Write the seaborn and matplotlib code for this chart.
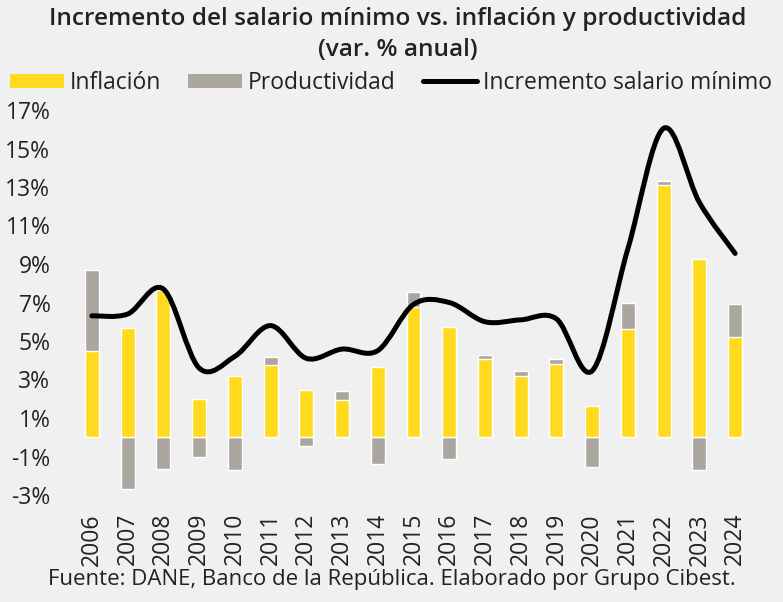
import matplotlib
matplotlib.use("Agg")
import matplotlib.pyplot as plt
from matplotlib.path import Path
from matplotlib.patches import PathPatch, Patch
from matplotlib.lines import Line2D
import numpy as np
import pandas as pd
import seaborn as sns

years = [str(y) for y in range(2006, 2025)]
inflacion = [4.48, 5.69, 7.67, 2.00, 3.17, 3.73, 2.44, 1.94, 3.66, 6.77, 5.75, 4.09, 3.18, 3.80, 1.61, 5.62, 13.12, 9.28, 5.20]
productividad = [4.22, -2.68, -1.65, -1.05, -1.70, 0.45, -0.44, 0.44, -1.41, 0.77, -1.13, 0.20, 0.27, 0.26, -1.52, 1.38, 0.18, -1.72, 1.74]
salario_minimo = [6.31, 6.40, 7.70, 3.60, 4.20, 5.80, 4.10, 4.58, 4.50, 6.90, 7.00, 6.00, 6.10, 6.15, 3.45, 9.80, 16.05, 12.20, 9.55]
yticks = list(range(-3, 18, 2))

YELLOW = "#FFDA1F"
GRAY = "#ABA69F"
BG = "#F0F0F0"
TXT = "#222222"

sns.set_theme(style="white")
plt.rcParams["font.family"] = ["Open Sans", "DejaVu Sans"]

df = pd.DataFrame({"anio": years, "inflacion": inflacion, "productividad": productividad})
# gray stacks on top of inflation when positive, hangs from zero when negative
df["gris"] = np.where(df["productividad"] > 0, df["inflacion"] + df["productividad"], df["productividad"])

fig = plt.figure(figsize=(7.83, 6.02), dpi=100, facecolor=BG)
ax = fig.add_axes([74 / 783, 107 / 602, 679 / 783, 385 / 602])
ax.set_facecolor(BG)

sns.barplot(data=df, x="anio", y="gris", color=GRAY, width=0.39, saturation=1, ax=ax)
sns.barplot(data=df, x="anio", y="inflacion", color=YELLOW, width=0.39, saturation=1, ax=ax)

# smoothed line (Excel-style bezier through the points)
xs = np.arange(len(salario_minimo), dtype=float)
ys = np.array(salario_minimo)
verts = [(xs[0], ys[0])]
codes = [Path.MOVETO]
n = len(xs)
for i in range(n - 1):
    p0 = (xs[max(i - 1, 0)], ys[max(i - 1, 0)])
    p1 = (xs[i], ys[i])
    p2 = (xs[i + 1], ys[i + 1])
    p3 = (xs[min(i + 2, n - 1)], ys[min(i + 2, n - 1)])
    c1 = (p1[0] + (p2[0] - p0[0]) / 6, p1[1] + (p2[1] - p0[1]) / 6)
    c2 = (p2[0] - (p3[0] - p1[0]) / 6, p2[1] - (p3[1] - p1[1]) / 6)
    verts += [c1, c2, p2]
    codes += [Path.CURVE4] * 3
ax.add_patch(PathPatch(Path(verts, codes), facecolor="none", edgecolor="black",
                       lw=3.6, capstyle="round", joinstyle="round", zorder=5))

ax.set_xlim(-0.5, len(years) - 0.5)
ax.set_ylim(-3, 17)
ax.set_yticks(yticks)
ax.set_yticklabels([f"{t}%" for t in yticks])
ax.set_xlabel("")
ax.set_ylabel("")
ax.tick_params(axis="y", length=0, pad=17, labelsize=16.5, labelcolor=TXT)
ax.tick_params(axis="x", length=0, pad=13, labelsize=16.5, labelcolor=TXT, rotation=90)
sns.despine(ax=ax, left=True, bottom=True)

fig.text(0.508, 1 - 7 / 602, "Incremento del salario mínimo vs. inflación y productividad\n(var. % anual)",
         ha="center", va="top", fontsize=17.6, fontweight="semibold", color=TXT, linespacing=1.4)

handles = [Patch(facecolor=YELLOW, edgecolor="none", label="Inflación"),
           Patch(facecolor=GRAY, edgecolor="none", label="Productividad"),
           Line2D([0], [0], color="black", lw=3.6, label="Incremento salario mínimo")]
fig.legend(handles=handles, ncol=3, loc="center left", bbox_to_anchor=(10 / 783, 1 - 83 / 602),
           frameon=False, fontsize=16.5, handlelength=2.35, handleheight=0.55, handletextpad=0.25,
           columnspacing=1.2, borderpad=0, borderaxespad=0, labelcolor=TXT)

fig.text(0.5, 1 - 580 / 602, "Fuente: DANE, Banco de la República. Elaborado por Grupo Cibest.",
         ha="center", va="center", fontsize=16, color=TXT)

fig.savefig("out.png", dpi=100, facecolor=BG)
